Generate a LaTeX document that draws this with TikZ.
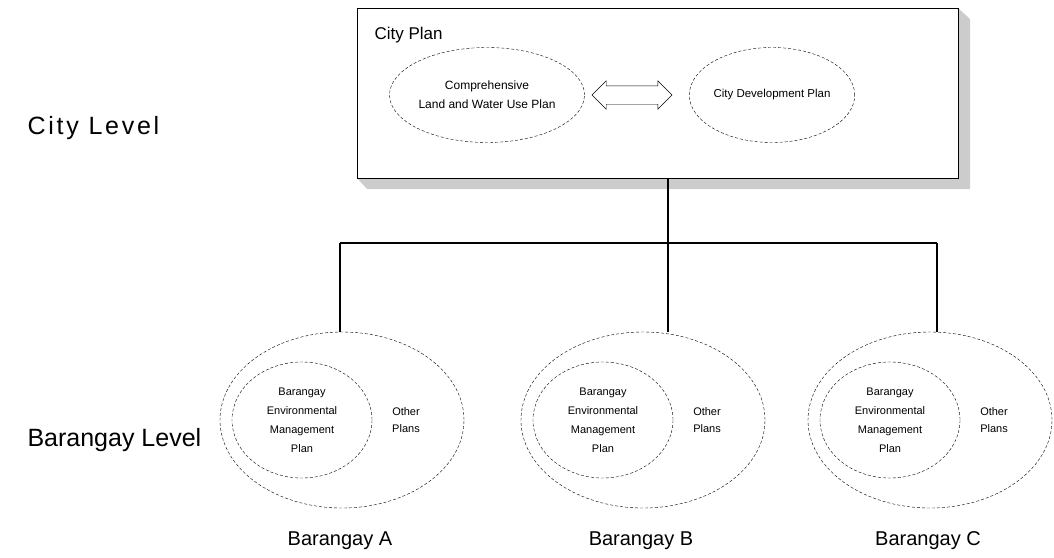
\documentclass[tikz,border=0pt]{standalone}
\usepackage{fontspec}
\setmainfont{Liberation Sans}
\usetikzlibrary{shapes.geometric, shapes.arrows, positioning, calc, patterns}

\begin{document}
\begin{tikzpicture}[x=1pt, y=-1pt,
    plan/.style={ellipse, draw, densely dashed, thin, inner sep=0pt, align=center, font=\fontsize{11}{19}\selectfont},
    outer/.style={ellipse, draw, densely dashed, thin, minimum width=244, minimum height=176},
    inner/.style={plan, minimum width=140, minimum height=116},
    level/.style={anchor=west, font=\fontsize{25}{28}\selectfont},
    brgname/.style={font=\fontsize{20}{22}\selectfont},
    link/.style={line width=1.2pt}]
  \useasboundingbox (0,0) rectangle (1054,557);

  % city box with its shadow
  \fill[gray!40] (357,178) -- (367,189) -- (970,189) -- (970,19) -- (958,8) -- (958,178) -- cycle;
  \node[draw, semithick, fill=white, minimum width=601, minimum height=170, inner sep=0pt] (cityplan) at (657.5,93) {};
  \node[anchor=west, font=\fontsize{17}{19}\selectfont] (cptitle) at (371,35) {City Plan};
  \node[plan, minimum width=195, minimum height=95, font=\fontsize{12}{19}\selectfont] (landuse) at (487,95) {Comprehensive\\Land and Water Use Plan};
  \node[plan, minimum width=146, minimum height=95, font=\fontsize{11.5}{19}\selectfont] (devplan) at (772,95) {City Development Plan};
  \node[double arrow, draw, thin, minimum height=80, double arrow head extend=5, inner sep=0pt] (both) at (632,95) {\vrule height 9pt depth 9pt width 0pt};

  % levels
  \node[level, font=\fontsize{25}{28}\selectfont\addfontfeature{LetterSpace=11}] (citylvl) at (24,128) {City Level};
  \node[level] (brglvl) at (24,440) {Barangay Level};

  % barangays
  \foreach \name/\cx/\txt in {brgA/342/A, brgB/643/B, brgC/930/C}{
    \node[outer] (\name) at (\cx,420) {};
    \node[inner] (\name emp) at (\cx-40,420) {Barangay\\Environmental\\Management\\Plan};
    \node[align=center, font=\fontsize{11}{17}\selectfont] (\name oth) at (\cx+64,420) {Other\\Plans};
    \node[brgname] (\name lbl) at (\cx-2,541) {Barangay \txt};
  }

  % links
  \coordinate (bus) at (668,243);
  \coordinate (busA) at (340,243);
  \coordinate (busC) at (937,243);
  \draw[link] (cityplan.south -| bus) -- (bus);
  \draw[link] (busA) -- (busC);
  \draw[link] (bus) -- (bus |- brgB.north);
  \draw[link] (busA) -- (busA |- brgA.north);
  \draw[link] (busC) -- (busC |- brgC.north);
\end{tikzpicture}
\end{document}
